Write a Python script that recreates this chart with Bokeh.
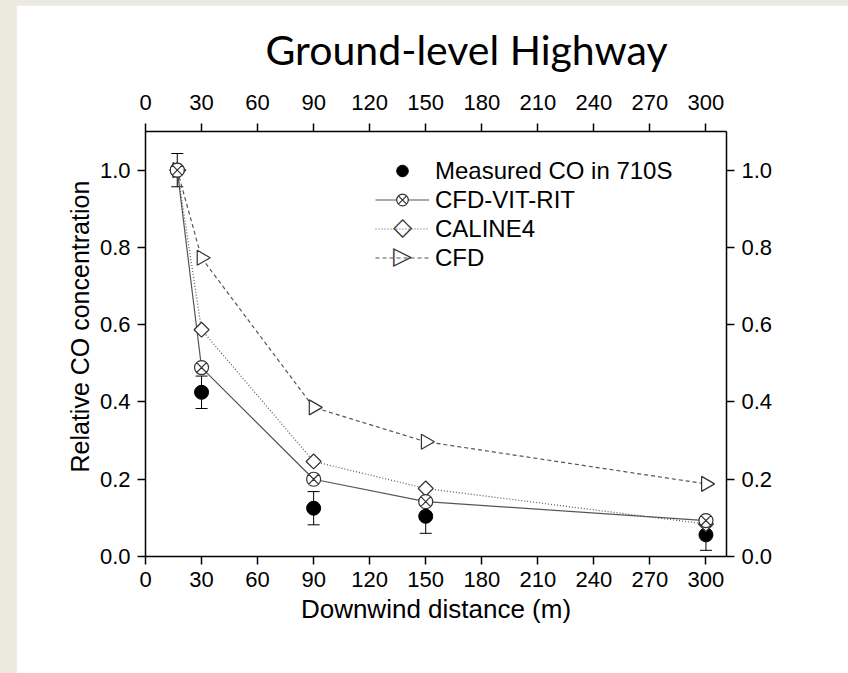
import math

from bokeh.embed import file_html
from bokeh.layouts import column
from bokeh.models import (ColumnDataSource, FixedTicker, Label, Legend,
                          LegendItem, LinearAxis, Range1d, TeeHead, Title,
                          Whisker)
from bokeh.plotting import figure
from bokeh.resources import INLINE

# Downwind distance from the highway (m)
distance = [17, 30, 90, 150, 300]

# Relative CO concentration, normalised to the nearest point
measured = [1.0, 0.425, 0.125, 0.104, 0.056]
measured_err = [0.043, 0.042, 0.043, 0.044, 0.040]
cfd_vit_rit = [1.0, 0.489, 0.200, 0.142, 0.093]
caline4 = [1.0, 0.587, 0.246, 0.176, 0.084]
cfd = [1.0, 0.773, 0.386, 0.297, 0.188]

x_ticks = [0, 30, 60, 90, 120, 150, 180, 210, 240, 270, 300]
y_ticks = [0.0, 0.2, 0.4, 0.6, 0.8, 1.0]
y_tick_labels = {0.0: "0.0", 0.2: "0.2", 0.4: "0.4", 0.6: "0.6", 0.8: "0.8", 1.0: "1.0"}

FONT = "Liberation Sans"
LINE_GREY = "#555555"
MARK_GREY = "#333333"

src = ColumnDataSource(dict(
    x=distance,
    measured=measured,
    lower=[m - e for m, e in zip(measured, measured_err)],
    upper=[m + e for m, e in zip(measured, measured_err)],
    vit=cfd_vit_rit,
    caline=caline4,
    cfd=cfd,
))

p = figure(
    width=832, height=668,
    x_range=Range1d(0, 311), y_range=Range1d(0, 1.1),
    output_backend="svg", toolbar_location=None,
    min_border_left=129, min_border_right=122,
    min_border_top=125, min_border_bottom=117,
    background_fill_color="white", border_fill_color="white",
    title="Ground-level Highway",
)
p.margin = (5, 0, 0, 16)
p.outline_line_color = None
p.xgrid.visible = False
p.ygrid.visible = False

p.title.text_font = "Lato"
p.title.text_font_size = "41px"
p.title.text_font_style = "normal"
p.title.text_color = "black"
p.title.align = "left"
p.title.offset = 120
p.title.standoff = 35

# axes: bottom/left are the figure's own, top/right mirror the ticks
bottom_axis = p.below[0]
left_axis = p.left[0]
top_axis = LinearAxis()
right_axis = LinearAxis()
p.add_layout(top_axis, "above")
p.add_layout(right_axis, "right")

for ax in [bottom_axis, top_axis]:
    ax.ticker = FixedTicker(ticks=x_ticks)
for ax in [left_axis, right_axis]:
    ax.ticker = FixedTicker(ticks=y_ticks)
    ax.major_label_overrides = y_tick_labels

for ax in [bottom_axis, top_axis, left_axis, right_axis]:
    ax.axis_line_color = "black"
    ax.axis_line_width = 1.5
    ax.major_tick_line_color = "black"
    ax.major_tick_line_width = 1.5
    ax.major_tick_out = 8
    ax.major_tick_in = 0
    ax.minor_tick_line_color = None
    ax.major_label_text_font = FONT
    ax.major_label_text_font_size = "22px"
    ax.major_label_text_color = "black"
    ax.major_label_standoff = 7
top_axis.major_label_standoff = 14

bottom_axis.axis_label = "Downwind distance (m)"
bottom_axis.axis_label_text_font = FONT
bottom_axis.axis_label_text_font_size = "26px"
bottom_axis.axis_label_text_font_style = "normal"
bottom_axis.axis_label_text_color = "black"
bottom_axis.axis_label_standoff = 4

# y-axis title, set in the left panel next to the tick labels
p.add_layout(Title(
    text="Relative CO concentration", align="left", offset=84, standoff=6,
    text_font=FONT, text_font_size="25px", text_font_style="normal",
    text_color="black",
), "left")

# error bars on the measurements
whisk = Whisker(
    source=src, base="x", lower="lower", upper="upper", dimension="height",
    line_color="black", line_width=1,
    upper_head=TeeHead(size=12, line_color="black", line_width=1),
    lower_head=TeeHead(size=12, line_color="black", line_width=1),
)
p.add_layout(whisk)

# model curves
l_vit = p.line("x", "vit", source=src, line_color=LINE_GREY, line_width=1.2)
l_cal = p.line("x", "caline", source=src, line_color=LINE_GREY, line_width=1.2,
               line_dash="1 2")
l_cfd = p.line("x", "cfd", source=src, line_color=LINE_GREY, line_width=1.2,
               line_dash="4 3")

s_meas = p.scatter("x", "measured", source=src, marker="circle", size=14,
                   fill_color="black", line_color="black")
s_cfd = p.scatter("x", "cfd", source=src, marker="triangle", size=15,
                  angle=-math.pi / 2, fill_color="white",
                  line_color=MARK_GREY, line_width=1.2)
s_cal = p.scatter("x", "caline", source=src, marker="square", size=10.6,
                  angle=math.pi / 4, fill_color="white",
                  line_color=MARK_GREY, line_width=1.2)
s_vit = p.scatter("x", "vit", source=src, marker="circle_x", size=14,
                  fill_color="white", line_color=MARK_GREY, line_width=1.2)

LEG_X, LEG_Y = 230, 284
GLYPH_W, ROW_H = 54, 29

legend = Legend(
    items=[
        LegendItem(label="Measured CO in 710S", renderers=[s_meas]),
        LegendItem(label="CFD-VIT-RIT", renderers=[l_vit, s_vit]),
        LegendItem(label="CALINE4", renderers=[l_cal]),
        LegendItem(label="CFD", renderers=[l_cfd]),
    ],
    location=(LEG_X, LEG_Y),
    orientation="vertical",
    background_fill_alpha=0,
    border_line_color=None,
    padding=0, margin=0, spacing=0,
    glyph_width=GLYPH_W, glyph_height=ROW_H,
    label_height=ROW_H, label_standoff=6,
    label_text_font=FONT, label_text_font_size="24px",
    label_text_color="black",
)
p.add_layout(legend)

# legend keys for the rotated markers (diamond, right-pointing triangle)
key_x = LEG_X + GLYPH_W / 2
legend_top = LEG_Y + 4 * ROW_H
for row, sym in [(2, "\u25C7"), (3, "\u25B7")]:
    p.add_layout(Label(
        x=key_x, y=legend_top - (row + 0.5) * ROW_H + 3,
        x_units="screen", y_units="screen",
        text=sym, text_align="center", text_baseline="middle",
        text_font="DejaVu Sans", text_font_size="25px", text_color=MARK_GREY,
        background_fill_color="white", padding=0,
    ))

page = column(p, width=848, height=673,
              styles={"background-color": "#ECE9DF"})

with open("out.html", "w") as f:
    f.write(file_html(page, INLINE))
